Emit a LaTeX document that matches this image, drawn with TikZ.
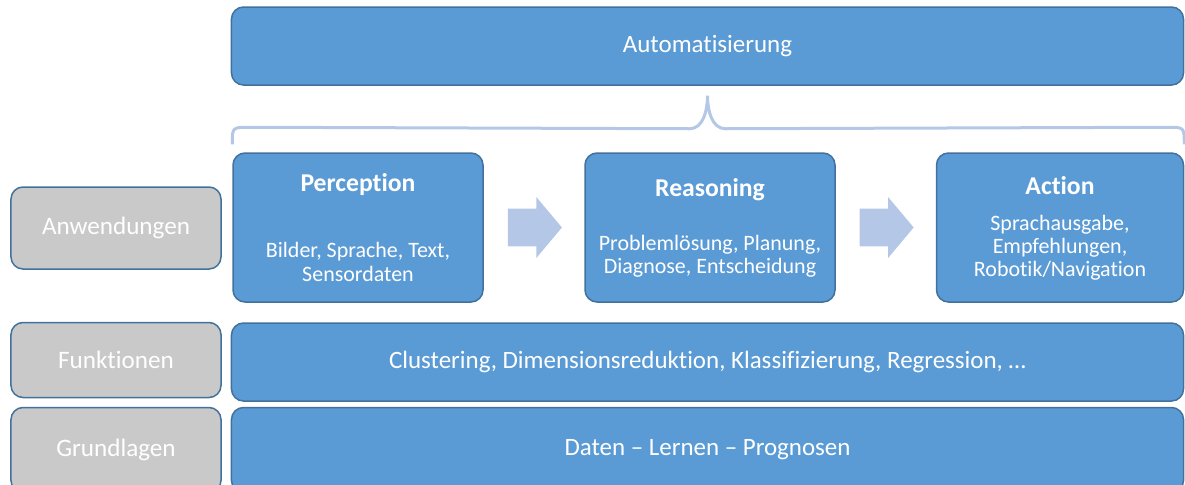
\documentclass[tikz,border=0pt]{standalone}
\usepackage{fontspec}
\setmainfont{Carlito}[Ligatures=NoCommon]
\usepackage{tikz}
\usetikzlibrary{positioning}
\usetikzlibrary{calc}
\usetikzlibrary{shapes.arrows}
\definecolor{boxblue}{HTML}{5B9BD5}
\definecolor{boxline}{HTML}{41719C}
\definecolor{boxgray}{HTML}{C9C9C9}
\definecolor{arrowblue}{HTML}{B4C7E7}

\begin{document}
\begin{tikzpicture}[x=0.2mm, y=-0.2mm,
    box/.style={rectangle, rounded corners=2.4mm, draw=boxline, line width=0.3mm, fill=boxblue, text=white, inner sep=0pt},
    graybox/.style={box, fill=boxgray, font=\fontsize{14.3}{16}\selectfont},
    rowtext/.style={font=\fontsize{14.2}{16}\selectfont},
    head/.style={text=white, font=\bfseries\fontsize{14.6}{16}\selectfont},
    body/.style={text=white, align=center, font=\fontsize{12.5}{13.2}\selectfont},
    blockarrow/.style={single arrow, fill=arrowblue, draw=none, minimum height=10.8mm, inner xsep=0pt, inner ysep=3.7mm, single arrow head extend=2.3mm, single arrow tip angle=100},
    bracelook/.style={draw=arrowblue, line width=0.6mm}]
    \useasboundingbox (0,0) rectangle (1185,484);
    \clip (0,0) rectangle (1185,484);
    % top
    \node[box, rowtext, minimum width=190.4mm, minimum height=15.6mm] (auto) at (707.5,46) {Automatisierung};
    % applications
    \node[box, minimum width=50mm, minimum height=29.8mm] (perc) at (358,227.5) {};
    \node[box, minimum width=50mm, minimum height=29.8mm] (reas) at (710,227.5) {};
    \node[box, minimum width=49.4mm, minimum height=29.8mm] (act) at (1060,227.5) {};
    \node[head] (perc-h) at (358,185) {Perception};
    \node[head] (reas-h) at (710,190) {Reasoning};
    \node[head] (act-h) at (1060,186) {Action};
    \node[body] (perc-b) at (358,262) {Bilder, Sprache, Text,\\Sensordaten};
    \node[body] (reas-b) at (710,256) {Problemlösung, Planung,\\Diagnose, Entscheidung};
    \node[body] (act-b) at (1060,248) {Sprachausgabe,\\Empfehlungen,\\Robotik/Navigation};
    \node[blockarrow, xshift=-1.4mm] (ar1) at ($(perc.east)!0.5!(reas.west)$) {};
    \node[blockarrow, xshift=-1.4mm] (ar2) at ($(reas.east)!0.5!(act.west)$) {};
    % brace
    \coordinate (brL) at ([yshift=1.6mm]perc.north west);
    \coordinate (brR) at ([yshift=1.6mm]act.north east);
    \coordinate (brT) at ([yshift=-2mm]auto.south);
    \draw[bracelook] (brL) .. controls +(0,-17) and +(-17,0) .. ++(17,-17)
        -- ($(brT)+(-18,33)$) .. controls +(14,0) and +(0,14) .. (brT)
        .. controls +(0,14) and +(-14,0) .. ++(18,33)
        -- ($(brR)+(-17,-17)$) .. controls +(17,0) and +(0,-17) .. (brR);
    % rows
    \node[box, rowtext, minimum width=190.4mm, minimum height=15.6mm] (fkt) at (707.5,362) {Clustering, Dimensionsreduktion, Klassifizierung, Regression, …};
    \node[box, minimum width=190.4mm, minimum height=17mm] (grd) at (707.5,450) {};
    \node[rowtext, text=white] (grd-t) at (707.5,450) {Daten – Lernen – Prognosen};
    % labels
    \node[graybox, text=white, minimum width=42mm, minimum height=16.4mm] (anw) at (116,228) {Anwendungen};
    \node[graybox, text=white, minimum width=42mm, minimum height=15mm] (fun) at (116,360) {Funktionen};
    \node[graybox, text=white, minimum width=42mm, minimum height=17mm] (grl) at (116,450) {Grundlagen};
\end{tikzpicture}
\end{document}
